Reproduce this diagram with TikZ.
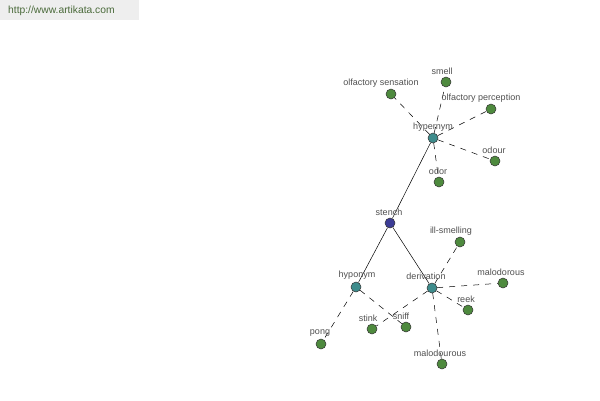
\documentclass[tikz,border=0pt]{standalone}
\usepackage{fontspec}
\setmainfont{Liberation Sans}
\definecolor{gnode}{HTML}{4E8A3E}
\definecolor{tnode}{HTML}{3E8C8C}
\definecolor{bnode}{HTML}{3C3C96}
\definecolor{lbl}{HTML}{505050}
\definecolor{wm}{HTML}{4A6A3A}
\definecolor{wmbg}{HTML}{EEEEEE}
\begin{document}
\begin{tikzpicture}[x=1pt,y=-1pt,
  dot/.style={circle,draw=black!80,line width=0.5pt,minimum size=10pt,inner sep=0pt},
  leaf/.style={dot,fill=gnode},
  rel/.style={dot,fill=tnode},
  root/.style={dot,fill=bnode},
  lab/.style={font=\fontsize{9}{10}\selectfont,text=lbl,inner sep=0pt},
  solidedge/.style={draw=black,line width=0.5pt},
  dashedge/.style={draw=black,line width=0.5pt,dash pattern=on 6pt off 6pt}]
\useasboundingbox (0,0) rectangle (600,400);
\fill[white] (0,0) rectangle (600,400);
\fill[wmbg] (0,0) rectangle (139,20);
\node[font=\fontsize{10.3}{11}\selectfont,text=wm,anchor=west,inner sep=0pt] (wmark) at (8,11) {http://www.artikata.com};
% nodes
\node[root] (stench) at (390,223) {};
\node[rel] (hyper) at (433,138) {};
\node[rel] (hypo) at (356,287) {};
\node[rel] (deriv) at (432,288) {};
\node[leaf] (smell) at (446,82) {};
\node[leaf] (olfs) at (391,94) {};
\node[leaf] (olfp) at (491,109) {};
\node[leaf] (odour) at (495,161) {};
\node[leaf] (odor) at (439,182) {};
\node[leaf] (ill) at (460,242) {};
\node[leaf] (malo) at (503,283) {};
\node[leaf] (reek) at (468,310) {};
\node[leaf] (malou) at (442,364) {};
\node[leaf] (sniff) at (406,327) {};
\node[leaf] (stink) at (372,329) {};
\node[leaf] (pong) at (321,344) {};
% edges
\draw[solidedge] (stench) -- (hyper);
\draw[solidedge] (stench) -- (hypo);
\draw[solidedge] (stench) -- (deriv);
\draw[dashedge] (hyper) -- (smell);
\draw[dashedge] (hyper) -- (olfs);
\draw[dashedge] (hyper) -- (olfp);
\draw[dashedge] (hyper) -- (odour);
\draw[dashedge] (hyper) -- (odor);
\draw[dashedge] (hypo) -- (pong);
\draw[dashedge] (hypo) -- (sniff);
\draw[dashedge] (deriv) -- (stink);
\draw[dashedge] (deriv) -- (ill);
\draw[dashedge] (deriv) -- (malo);
\draw[dashedge] (deriv) -- (reek);
\draw[dashedge] (deriv) -- (malou);
% labels
\node[lab] (l-stench) at (389,212) {stench};
\node[lab] (l-hyper) at (433,127) {hypernym};
\node[lab] (l-hypo) at (357,275) {hyponym};
\node[lab] (l-deriv) at (426,276) {derivation};
\node[lab] (l-smell) at (442,71) {smell};
\node[lab] (l-olfs) at (381,83) {olfactory sensation};
\node[lab] (l-olfp) at (481,98) {olfactory perception};
\node[lab] (l-odour) at (494,150) {odour};
\node[lab] (l-odor) at (438,171) {odor};
\node[lab] (l-ill) at (451,231) {ill-smelling};
\node[lab] (l-malo) at (501,272) {malodorous};
\node[lab] (l-reek) at (466,299) {reek};
\node[lab] (l-malou) at (440,353) {malodourous};
\node[lab] (l-sniff) at (401,316) {sniff};
\node[lab] (l-stink) at (368,318) {stink};
\node[lab] (l-pong) at (320,333) {pong};
\end{tikzpicture}
\end{document}
